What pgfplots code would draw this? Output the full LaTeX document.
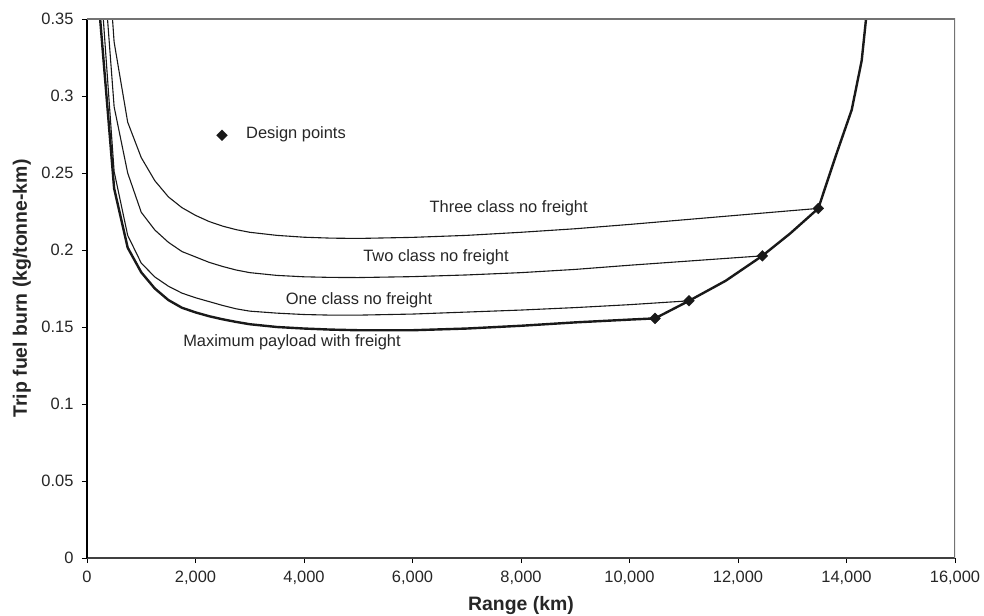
\documentclass[border=0pt]{standalone}
\usepackage{fontspec}
\setmainfont{Liberation Sans}
\usepackage{pgfplots}
\pgfplotsset{compat=1.18}
\begin{document}
\begin{tikzpicture}
\begin{axis}[
  at={(0,0)}, anchor=south west,
  scale only axis, width=868bp, height=539bp,
  xmin=0, xmax=16000, ymin=0, ymax=0.35,
  xtick={0,2000,4000,6000,8000,10000,12000,14000,16000},
  ytick={0,0.05,0.1,0.15,0.2,0.25,0.3,0.35},
  scaled x ticks=false, scaled y ticks=false,
  ticklabel style={font=\fontsize{16.5}{18}\selectfont, text=black!85},
  xticklabel style={yshift=-5bp, /pgf/number format/.cd, fixed, 1000 sep={,}, assume math mode=true},
  yticklabel style={xshift=-5bp, /pgf/number format/.cd, fixed, precision=2, assume math mode=true},
  axis x line*=bottom, axis y line*=left,
  x axis line style={-, draw=black!75, line width=1.6bp},
  y axis line style={-, draw=black, line width=1.3bp},
  tick align=outside, major tick length=5bp,
  tick style={black, line width=0.9bp},
  clip=true,
]
% Three class no freight
\addplot[black!90, line width=1.1bp, line join=round] coordinates {
(250,0.46) (500,0.335) (750,0.283) (1000,0.260) (1250,0.245) (1500,0.2345)
(1750,0.2275) (2000,0.2225) (2250,0.2185) (2500,0.2155) (2750,0.2132)
(3000,0.2115) (3500,0.2095) (4000,0.2083) (4500,0.2077) (5000,0.2075)
(6000,0.2082) (7000,0.2095) (8000,0.2115) (9000,0.2138) (10000,0.2166)
(11000,0.2196) (12000,0.2226) (13000,0.2256) (13480,0.2270)};
% Two class no freight
\addplot[black!90, line width=1.1bp, line join=round] coordinates {
(250,0.41) (500,0.293) (750,0.250) (1000,0.2245) (1250,0.2130) (1500,0.2050)
(1750,0.1990) (2000,0.1955) (2250,0.1920) (2500,0.1893) (2750,0.1870)
(3000,0.1853) (3500,0.1835) (4000,0.1826) (4500,0.1822) (5000,0.1821)
(6000,0.1827) (7000,0.1838) (8000,0.1853) (9000,0.1874) (10000,0.1901)
(11000,0.1926) (12000,0.1951) (12448,0.1962)};
% One class no freight
\addplot[black!90, line width=1.1bp, line join=round] coordinates {
(250,0.375) (500,0.251) (750,0.2095) (1000,0.1915) (1250,0.1825) (1500,0.1765)
(1750,0.1720) (2000,0.1690) (2250,0.1665) (2500,0.1640) (2750,0.1618)
(3000,0.1603) (3500,0.1590) (4000,0.1581) (4500,0.1577) (5000,0.1577)
(6000,0.1584) (7000,0.1597) (8000,0.1610) (9000,0.1626) (10000,0.1645)
(11097,0.1670)};
% Maximum payload with freight
\addplot[black!90, line width=2.4bp, line join=round] coordinates {
(200,0.368) (500,0.240) (750,0.2015) (1000,0.1855) (1250,0.1750) (1500,0.1675)
(1750,0.1625) (2000,0.1595) (2250,0.1570) (2500,0.1550) (2750,0.1533)
(3000,0.1518) (3500,0.1500) (4000,0.1490) (4500,0.1483) (5000,0.1479)
(6000,0.1479) (7000,0.1490) (8000,0.1508) (9000,0.1530) (10000,0.1548)
(10470,0.1556)};
% Limit curve through the design points
\addplot[black!90, line width=2.4bp, line join=round] coordinates {
(10470,0.1556) (11097,0.1670) (11772,0.1800) (12448,0.1962) (12964,0.2108)
(13480,0.2270) (13806,0.2615) (14096,0.291) (14280,0.323) (14360,0.35)
(14420,0.39)};
% Design points
\addplot[only marks, mark=square*, mark size=3.8bp, mark options={rotate=45, fill=black!90, draw=black!90}] coordinates {
(10470,0.1556) (11097,0.1670) (12448,0.1962) (13480,0.2270) (2488,0.2745)};
\node[anchor=base, font=\fontsize{16.5}{18}\selectfont, text=black!85] at (axis cs:3852,0.2724) {Design points};
\node[anchor=base, font=\fontsize{16.5}{18}\selectfont, text=black!85] at (axis cs:7772,0.2244) {Three class no freight};
\node[anchor=base, font=\fontsize{16.5}{18}\selectfont, text=black!85] at (axis cs:6433,0.1923) {Two class no freight};
\node[anchor=base, font=\fontsize{16.5}{18}\selectfont, text=black!85] at (axis cs:5014,0.1647) {One class no freight};
\node[anchor=base, font=\fontsize{16.5}{18}\selectfont, text=black!85] at (axis cs:3779,0.1371) {Maximum payload with freight};
\draw[draw=black!55, line width=1.1bp] (rel axis cs:0,1) -- (rel axis cs:1,1) -- (rel axis cs:1,0);
\end{axis}
\node[anchor=base, font=\bfseries\fontsize{19.5}{22}\selectfont, text=black!85] at (434bp,-52bp) {Range (km)};
\node[rotate=90, anchor=base, font=\bfseries\fontsize{19.5}{22}\selectfont, text=black!85] at (-60bp,269.5bp) {Trip fuel burn (kg/tonne-km)};
\pgfresetboundingbox
\useasboundingbox (-87bp,-58bp) rectangle (897bp,558bp);
\end{tikzpicture}
\end{document}
